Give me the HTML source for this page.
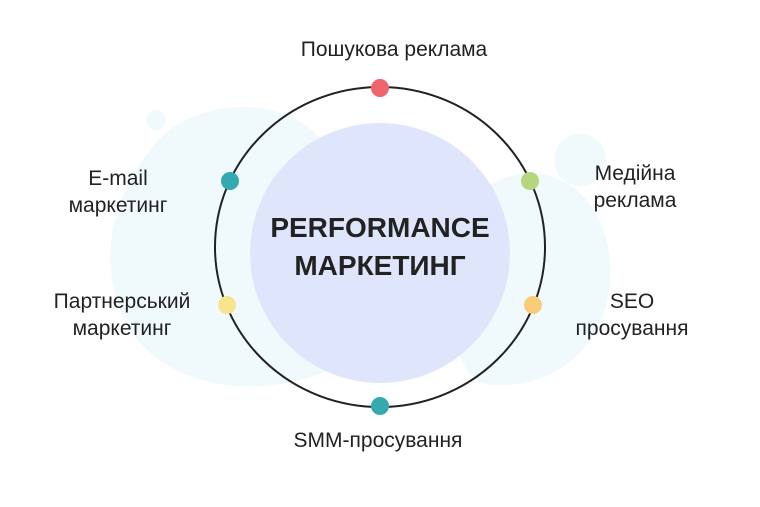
<!DOCTYPE html>
<html><head><meta charset="utf-8"><style>
html,body{margin:0;padding:0;background:#fff;}
body{width:760px;height:507px;overflow:hidden;position:relative;font-family:"Liberation Sans","DejaVu Sans",sans-serif;}
.t{position:absolute;font-size:21px;color:#222;line-height:27px;text-align:center;white-space:nowrap;}
</style></head><body>
<svg width="760" height="507" style="position:absolute;left:0;top:0">
<path d="M150 150 C190 95 290 90 330 150 L330 370 C260 400 170 390 130 330 C95 270 110 200 150 150Z" fill="#f0fafc"/>
<path d="M470 200 C520 150 600 170 610 260 C615 340 560 390 490 385 C450 380 440 300 470 200Z" fill="#f0fafc"/>
<circle cx="156" cy="120" r="10" fill="#f0fafc"/>
<circle cx="580" cy="160" r="26" fill="#f0fafc"/>
<circle cx="380" cy="253" r="130" fill="#dfe6fc"/>
<ellipse cx="380" cy="247" rx="165" ry="160" fill="none" stroke="#222" stroke-width="2"/>
<circle cx="380" cy="88" r="9" fill="#f0646e"/>
<circle cx="530" cy="181" r="9" fill="#b4d67c"/>
<circle cx="533" cy="305" r="9" fill="#f8cc78"/>
<circle cx="380" cy="406" r="9" fill="#34aab0"/>
<circle cx="227" cy="305" r="9" fill="#f8e48c"/>
<circle cx="230" cy="181" r="9" fill="#34aab0"/>
</svg>
<div class="t" style="left:0;width:760px;top:209px;font-size:28px;font-weight:bold;line-height:38px;color:#222;">PERFORMANCE<br>МАРКЕТИНГ</div>
<div class="t" style="left:194px;width:400px;top:36px;">Пошукова реклама</div>
<div class="t" style="left:535px;width:200px;top:160px;">Медійна<br>реклама</div>
<div class="t" style="left:532px;width:200px;top:288px;">SEO<br>просування</div>
<div class="t" style="left:178px;width:400px;top:427px;">SMM-просування</div>
<div class="t" style="left:22px;width:200px;top:288px;">Партнерський<br>маркетинг</div>
<div class="t" style="left:18px;width:200px;top:165px;">E-mail<br>маркетинг</div>
</body></html>
